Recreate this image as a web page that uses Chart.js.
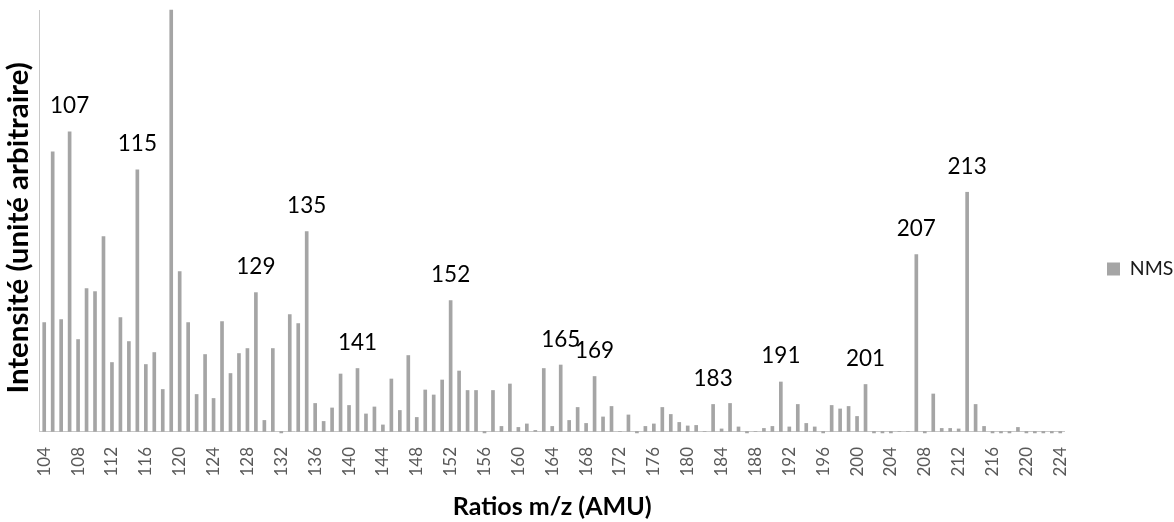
<!DOCTYPE html>
<html lang="fr">
<head>
<meta charset="utf-8">
<title>Spectre de masse NMS</title>
<script src="https://cdn.jsdelivr.net/npm/chart.js@4/dist/chart.umd.min.js"></script>
<style>
  html, body { margin: 0; padding: 0; background: #ffffff; }
  #wrap { width: 1174px; height: 522px; }
</style>
</head>
<body>
<div id="wrap"><canvas id="spectre" width="1174" height="522"></canvas></div>
<script>
// m/z ratios (AMU), one category per unit mass
const mzValues = [
  104, 105, 106, 107, 108, 109, 110, 111, 112, 113, 114, 115, 116, 117, 118, 119,
  120, 121, 122, 123, 124, 125, 126, 127, 128, 129, 130, 131, 132, 133, 134, 135,
  136, 137, 138, 139, 140, 141, 142, 143, 144, 145, 146, 147, 148, 149, 150, 151,
  152, 153, 154, 155, 156, 157, 158, 159, 160, 161, 162, 163, 164, 165, 166, 167,
  168, 169, 170, 171, 172, 173, 174, 175, 176, 177, 178, 179, 180, 181, 182, 183,
  184, 185, 186, 187, 188, 189, 190, 191, 192, 193, 194, 195, 196, 197, 198, 199,
  200, 201, 202, 203, 204, 205, 206, 207, 208, 209, 210, 211, 212, 213, 214, 215,
  216, 217, 218, 219, 220, 221, 222, 223, 224
];

// NMS intensity (arbitrary units), same order as mzValues
const nmsIntensity = [
  109, 280, 112, 300,  92, 143, 140, 195,  69, 114,  90, 262,  67,  79,  42, 422,
  160, 109,  37,  77,  33, 110,  58,  78,  83, 139,  11,  83, -1.5, 117, 108, 200,
   28,  10, 23.5, 57.5, 26, 63, 17.5, 24.5, 6.5, 52.5, 21, 76, 14, 41.5, 36.5, 51.5,
  131, 60.5, 41,  41, -1.5, 41,   5, 47.5,  4, 7.5,   1,  63,   5, 66.5, 11,  24,
    8,  55, 14.5, 25,   0, 16.5, -1.5, 5, 7.5,  24,  17,   9, 5.5,   6,   0,  27,
  2.5,  28, 4.5, -1.5,  0,   3,   5, 49.5, 4.5, 27,   8, 4.5, -1.5, 26, 22.5, 25,
   15,  47, -1.5, -1.5, -1.5, 0,  0, 177, -1.5, 37.5, 3,   3, 2.5, 239.5, 27,  5,
  -1.5, -1.5, -1.5, 4, -1.5, -1.5, -1.5, -1.5, -1.5
];

// peaks annotated with their m/z above the bar
const annotatedPeaks = [107, 115, 129, 135, 141, 152, 165, 169, 183, 191, 201, 207, 213];

// m/z values shown on the horizontal axis
const axisTickMz = [
  104, 108, 112, 116, 120, 124, 128, 132, 136, 140, 144, 148, 152, 156, 160, 164,
  168, 172, 176, 180, 184, 188, 192, 196, 200, 204, 208, 212, 216, 220, 224
];

const intensityMax = 422;

// writes the m/z value above each annotated peak
const peakLabels = {
  id: 'peakLabels',
  afterDatasetsDraw(chart) {
    const meta = chart.getDatasetMeta(0);
    const ctx = chart.ctx;
    ctx.save();
    ctx.font = '22.5px Lato';
    ctx.fillStyle = '#000000';
    ctx.textAlign = 'center';
    ctx.textBaseline = 'alphabetic';
    annotatedPeaks.forEach(mz => {
      const idx = mzValues.indexOf(mz);
      const bar = meta.data[idx];
      if (bar) ctx.fillText(String(mz), bar.x, bar.y - 18.5);
    });
    ctx.restore();
  }
};

new Chart(document.getElementById('spectre'), {
  type: 'bar',
  data: {
    labels: mzValues.map(String),
    datasets: [{
      label: 'NMS',
      data: nmsIntensity,
      backgroundColor: '#A5A5A5',
      borderWidth: 0,
      barThickness: 3,
      clip: false
    }]
  },
  options: {
    responsive: false,
    animation: false,
    layout: { padding: { top: 10, right: 0, bottom: 0, left: 0 } },
    plugins: {
      tooltip: { enabled: false },
      legend: {
        position: 'right',
        align: 'center',
        maxWidth: 109.5,
        title: { display: true, text: '', font: { size: 5 }, padding: 0 },
        labels: {
          boxWidth: 13,
          boxHeight: 13,
          padding: 42.5,
          color: '#1a1a1a',
          font: { family: 'Lato', size: 19.5 }
        }
      }
    },
    scales: {
      x: {
        grid: { display: false, drawTicks: false },
        border: { display: true, color: '#C8C8C8', width: 1 },
        ticks: {
          autoSkip: false,
          minRotation: 90,
          maxRotation: 90,
          padding: 15.5,
          color: '#595959',
          font: { family: 'Lato', size: 17 },
          callback(value, index) {
            const mz = mzValues[index];
            return axisTickMz.includes(mz) ? String(mz) : '';
          }
        },
        title: {
          display: true,
          text: 'Ratios m/z (AMU)',
          color: '#000000',
          font: { family: 'Lato', size: 25, weight: 'bold' },
          padding: { top: 0, bottom: 0 }
        }
      },
      y: {
        min: 0,
        max: intensityMax,
        grid: { display: false, drawTicks: false },
        border: { display: true, color: '#C8C8C8', width: 1 },
        ticks: { display: false },
        title: {
          display: true,
          text: 'Intensité (unité arbitraire)\u00a0\u00a0',
          color: '#000000',
          font: { family: 'Lato', size: 29.4, weight: 'bold' },
          padding: { top: 0.4, bottom: 4.3 }
        }
      }
    }
  },
  plugins: [peakLabels]
});
</script>
</body>
</html>
